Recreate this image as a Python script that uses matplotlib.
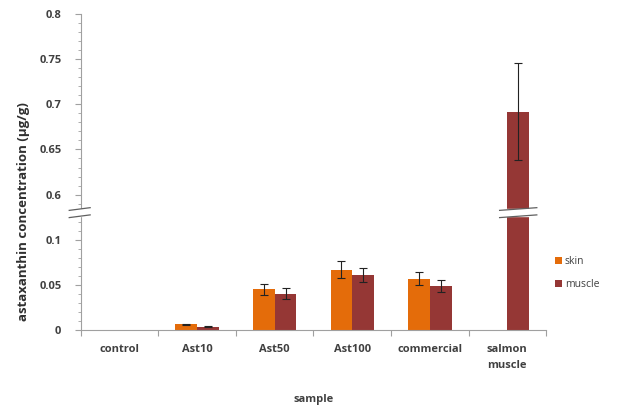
import matplotlib.pyplot as plt
import numpy as np

# data
categories = ['control', 'Ast10', 'Ast50', 'Ast100', 'commercial', 'salmon\nmuscle']
skin = [0, 0.0063, 0.045, 0.067, 0.057, np.nan]
skin_err = [0, 0.0008, 0.006, 0.009, 0.007, 0]
muscle = [0, 0.0036, 0.040, 0.061, 0.049, 0.692]
muscle_err = [0, 0.0008, 0.006, 0.008, 0.0067, 0.054]

# broken axis: values above the break are shifted down
SHIFT = 0.45
BREAK = 0.13

def fold(v):
    v = np.asarray(v, dtype=float)
    return np.where(v > 0.3, v - SHIFT, v)

plt.rcParams['font.family'] = ['Open Sans', 'DejaVu Sans']

fig = plt.figure(figsize=(6.22, 4.13), dpi=100)
ax = fig.add_axes([0.130, 0.201, 0.748, 0.765])

x = np.arange(len(categories))
w = 0.28
skin_col = '#E46C0A'
muscle_col = '#953735'

ax.bar(x - w/2, fold(skin), w, color=skin_col, label='skin', zorder=2)
ax.bar(x + w/2, fold(muscle), w, color=muscle_col, label='muscle', zorder=2)
ek = dict(fmt='none', ecolor='#222222', elinewidth=0.8, capsize=3, capthick=0.8, zorder=3)
ms = (x > 0) & (x < 5)
mm = x > 0
ax.errorbar((x - w/2)[ms], fold(skin)[ms], yerr=np.array(skin_err)[ms], **ek)
ax.errorbar((x + w/2)[mm], fold(muscle)[mm], yerr=np.array(muscle_err)[mm], **ek)

ax.set_xlim(-0.5, len(categories) - 0.5)
ax.set_ylim(0, 0.35)

# y ticks
yt = [0, 0.05, 0.1, 0.6, 0.65, 0.7, 0.75, 0.8]
ax.set_yticks(fold(yt))
ax.set_yticklabels(['0', '0.05', '0.1', '0.6', '0.65', '0.7', '0.75', '0.8'])
ax.set_yticks(np.arange(0, 0.351, 0.01), minor=True)
ax.tick_params(axis='y', which='major', length=4, color='#A0A0A0', labelsize=8,
               labelcolor='#404040', pad=10)
ax.tick_params(axis='y', which='minor', length=2.5, color='#A0A0A0')
for t in ax.get_yticklabels():
    t.set_fontweight('bold')

# x ticks: boundaries as ticks, labels at centers
ax.set_xticks(np.arange(-0.5, len(categories), 1.0))
ax.set_xticklabels([])
ax.set_xticks(x, minor=True)
ax.set_xticklabels(categories, minor=True, fontsize=8, fontweight='bold', color='#404040',
                   linespacing=1.7)
ax.tick_params(axis='x', which='major', length=4, color='#A0A0A0')
ax.tick_params(axis='x', which='minor', length=0, pad=10)

for s in ['top', 'right']:
    ax.spines[s].set_visible(False)
for s in ['left', 'bottom']:
    ax.spines[s].set_color('#A0A0A0')
    ax.spines[s].set_linewidth(0.8)

ax.set_ylabel('astaxanthin concentration (\u03bcg/g)', fontsize=9.5, fontweight='bold',
              color='#303030')
ax.yaxis.set_label_coords(-0.11, 0.375)
ax.set_xlabel('sample', fontsize=8, fontweight='bold', color='#404040', labelpad=16)

# break marks on axis and on salmon bar
def break_mark(x0, x1, clip=False):
    xs = np.array([x0, x1])
    ax.fill_between(xs, BREAK - 0.004, BREAK + 0.004, color='white', zorder=4, clip_on=clip)
    for dy in (-0.004, 0.004):
        ax.plot(xs, [BREAK + dy - 0.0015, BREAK + dy + 0.0015], color='#606060', lw=0.9,
                zorder=5, clip_on=clip)

break_mark(-0.65, -0.38)
break_mark(5 + w/2 - 0.24, 5 + w/2 + 0.24, clip=True)

leg = ax.legend(loc='center left', bbox_to_anchor=(1.0, 0.18), frameon=False, fontsize=7.5,
                handlelength=0.6, handleheight=0.6, handletextpad=0.3, labelspacing=1.2)
for t in leg.get_texts():
    t.set_color('#404040')

fig.savefig('out.png', dpi=100)
